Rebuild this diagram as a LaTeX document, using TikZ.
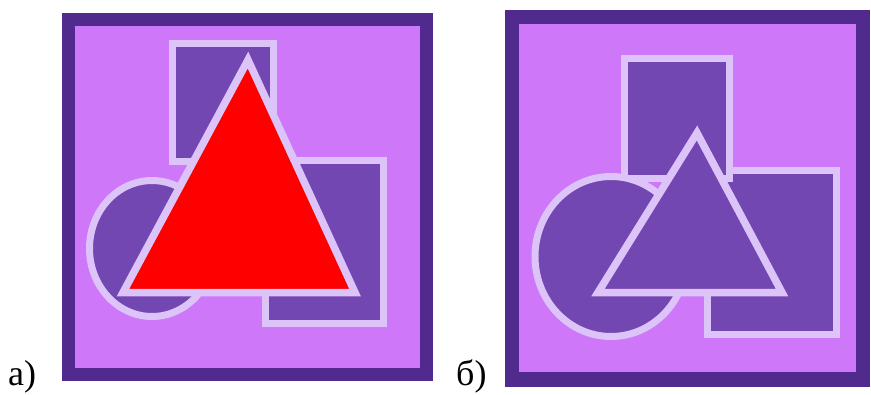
\documentclass[tikz,border=0pt]{standalone}
\usepackage{fontspec}
\setmainfont{Liberation Serif}
\definecolor{frameC}{HTML}{502A8C}
\definecolor{bgC}{HTML}{CE78F9}
\definecolor{shapeC}{HTML}{7347B2}
\definecolor{edgeC}{HTML}{DCC3F8}
\definecolor{redC}{HTML}{FF0000}
\begin{document}
\begin{tikzpicture}[x=1pt,y=-1pt,
  shp/.style={fill=shapeC, draw=edgeC, line width=7pt},
  tri/.style={draw=edgeC, line width=7.5pt, line join=miter},
  lbl/.style={anchor=base west, inner sep=0pt, font=\fontsize{36}{36}\selectfont}]
\useasboundingbox (0,0) rectangle (871,394);
\fill[white] (0,0) rectangle (871,394);
% ---- panel a ----
\fill[frameC] (62,13) rectangle (433,381);
\fill[bgC] (75,26) rectangle (420,368);
\draw[shp] (172.5,43.5) rectangle (273.5,161.5);
\draw[shp] (265.5,160.5) rectangle (383.5,323.5);
\draw[shp] (152,248.5) ellipse [x radius=62.5, y radius=68];
\draw[tri, fill=redC] (248,60) -- (123,292.5) -- (355,292.5) -- cycle;
\node[lbl] (la) at (8,385.5) {а)};
% ---- panel b ----
\fill[frameC] (505,10) rectangle (870,387);
\fill[bgC] (519,24) rectangle (856,372);
\draw[shp] (707.5,170.5) rectangle (836.5,334.5);
\draw[shp] (624.5,58.5) rectangle (729.5,178);
\draw[shp] (611,256.5) ellipse [x radius=76, y radius=80];
\draw[tri, fill=shapeC] (697,133) -- (598,292.5) -- (782,292.5) -- cycle;
\node[lbl] (lb) at (456,385.5) {б)};
\end{tikzpicture}
\end{document}
